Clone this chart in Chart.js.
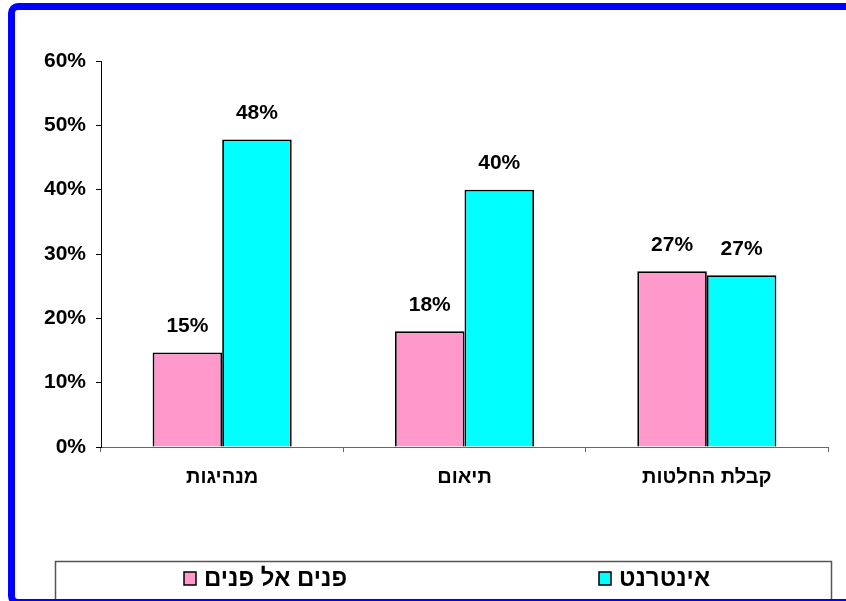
<!DOCTYPE html>
<html><head><meta charset="utf-8">
<script src="https://cdn.jsdelivr.net/npm/chart.js@4/dist/chart.umd.min.js"></script>
<style>
html,body{margin:0;padding:0;background:#fff;overflow:hidden}
#wrap{position:relative;width:846px;height:601px;overflow:hidden}
#frame{position:absolute;left:8px;top:3px;width:900px;height:589px;border:7px solid #0000FF;border-radius:10px;pointer-events:none;z-index:2}
#c{position:absolute;left:0;top:0;z-index:1}
</style></head>
<body>
<div id="wrap"><canvas id="c" width="846" height="601"></canvas><div id="frame"></div></div>
<script>
const categories = ['מנהיגות', 'תיאום', 'קבלת החלטות'];
const seriesNames = ['פנים אל פנים', 'אינטרנט'];
const faceToFace = [14.7, 18.0, 27.3];
const internet = [47.8, 40.0, 26.7];
const yMin = 0, yMax = 60, yStep = 10;

const FONT = '"Liberation Sans", Arial, sans-serif';

const valueLabels = {
  id: 'valueLabels',
  afterDatasetsDraw(chart) {
    const ctx = chart.ctx;
    ctx.save();
    ctx.font = 'bold 21px ' + FONT;
    ctx.fillStyle = '#000';
    ctx.textAlign = 'center';
    ctx.textBaseline = 'middle';
    chart.data.datasets.forEach((ds, i) => {
      chart.getDatasetMeta(i).data.forEach((bar, j) => {
        ctx.fillText(Math.round(ds.data[j]) + '%', bar.x, bar.y - 26);
      });
    });
    ctx.restore();
  }
};

const boxLegend = {
  id: 'boxLegend',
  afterDraw(chart) {
    const ctx = chart.ctx;
    ctx.save();
    ctx.strokeStyle = '#555';
    ctx.lineWidth = 1.5;
    ctx.strokeRect(55.5, 561.5, 776, 60);
    ctx.font = 'bold 24px ' + FONT;
    ctx.textBaseline = 'middle';
    ctx.textAlign = 'left';
    const sqX = [184, 599];
    chart.data.datasets.forEach((ds, i) => {
      const x = sqX[i], y = 572;
      ctx.fillStyle = ds.backgroundColor;
      ctx.fillRect(x, y, 12, 13);
      ctx.strokeStyle = '#000';
      ctx.lineWidth = 1.5;
      ctx.strokeRect(x, y, 12, 13);
      ctx.fillStyle = '#000';
      ctx.fillText(ds.label, x + 20, 579);
    });
    ctx.restore();
  }
};

new Chart(document.getElementById('c'), {
  type: 'bar',
  data: {
    labels: categories,
    datasets: [
      { label: seriesNames[0], data: faceToFace, backgroundColor: '#FF99CC', borderColor: '#000', borderWidth: 1.8 },
      { label: seriesNames[1], data: internet, backgroundColor: '#00FFFF', borderColor: '#000', borderWidth: 1.8 }
    ]
  },
  options: {
    responsive: false,
    animation: false,
    devicePixelRatio: 1,
    layout: { padding: { left: 0, top: 61, right: 18, bottom: 0 } },
    datasets: { bar: { categoryPercentage: 0.574, barPercentage: 1.0 } },
    plugins: { legend: { display: false }, tooltip: { enabled: false } },
    scales: {
      x: {
        afterFit(s) { s.height = 154; },
        grid: { drawOnChartArea: false, drawTicks: true, tickLength: 5, color: '#666', offset: true },
        border: { color: '#666', width: 1 },
        ticks: { color: '#000', font: { family: FONT, size: 20, weight: 'bold' }, padding: 13, maxRotation: 0 }
      },
      y: {
        min: yMin, max: yMax,
        afterFit(s) { s.width = 101; },
        grid: { drawOnChartArea: false, drawTicks: true, tickLength: 5, color: '#000' },
        border: { color: '#000', width: 1 },
        ticks: { stepSize: yStep, color: '#000', padding: 10, font: { family: FONT, size: 21, weight: 'bold' }, callback: v => v + '%' }
      }
    }
  },
  plugins: [valueLabels, boxLegend]
});
</script>
</body></html>
